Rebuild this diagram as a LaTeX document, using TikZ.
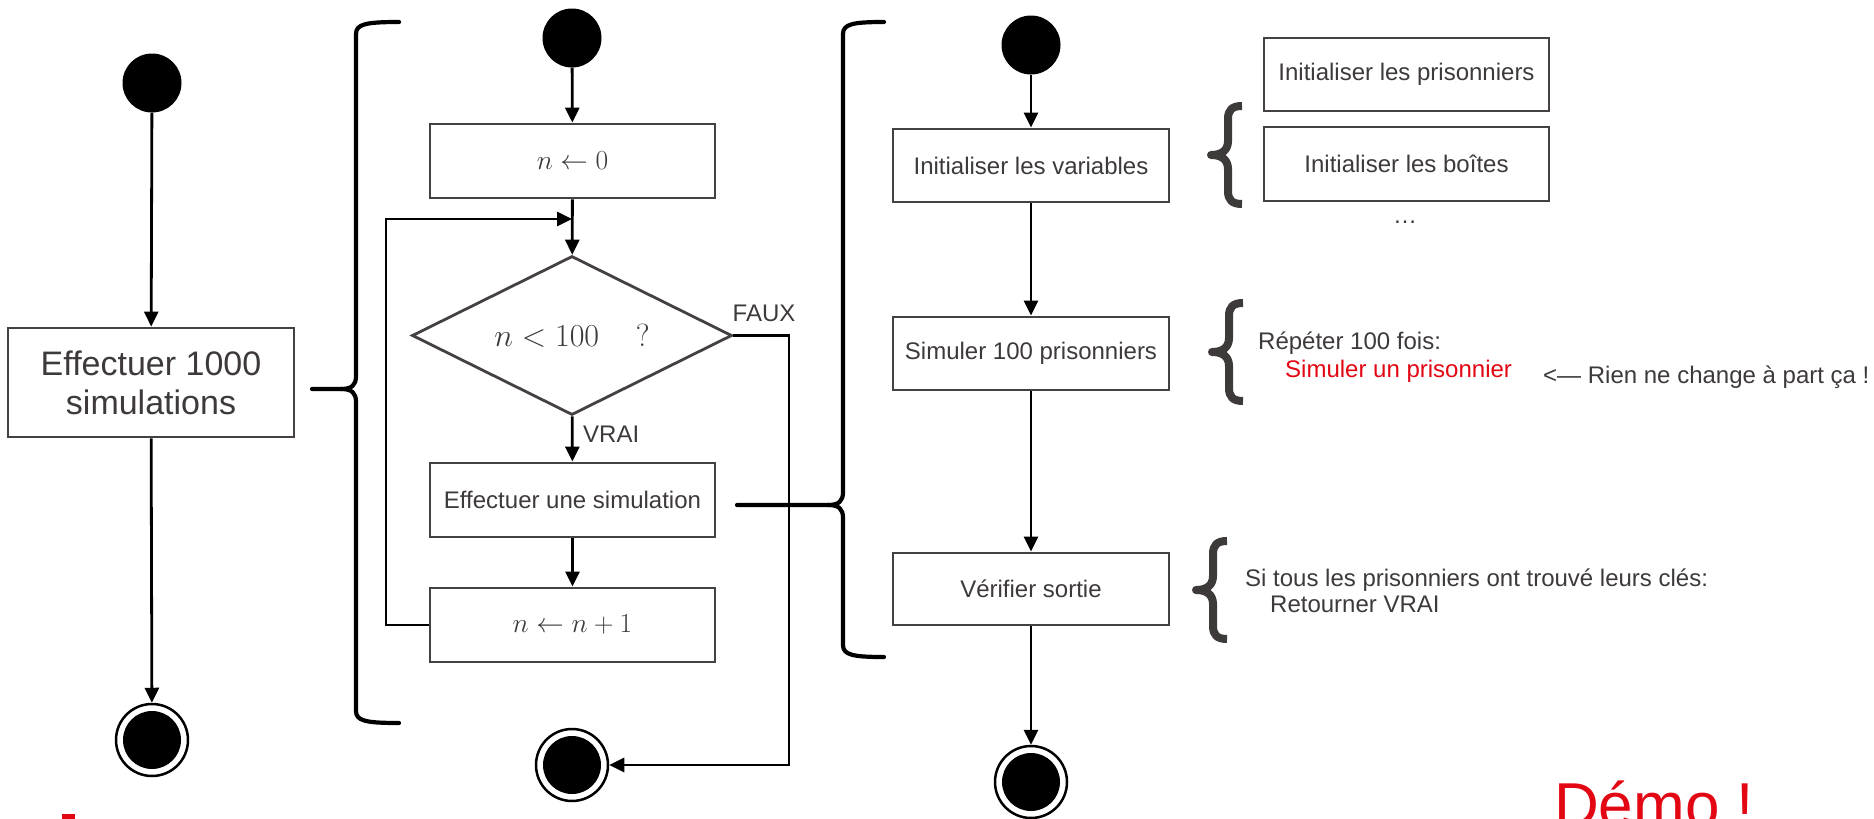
\documentclass[tikz,border=0pt]{standalone}
\usepackage{fontspec}
\setmainfont{Liberation Sans}
\usetikzlibrary{arrows.meta,shapes.geometric,calc}
\definecolor{txt}{HTML}{3E3A39}
\definecolor{bord}{HTML}{454141}
\definecolor{rouge}{HTML}{E30613}
\begin{document}
\begin{tikzpicture}[x=1pt,y=-1pt,
  box/.style={draw=bord,line width=2.8pt,inner sep=0pt,text=txt,
    font=\fontsize{24}{28}\selectfont},
  mth/.style={font=\fontsize{24.88}{30}\selectfont},
  startc/.style={circle,fill=black,inner sep=0pt,minimum size=59pt},
  endc/.style={circle,draw=black,line width=2.5pt,fill=white,inner sep=0pt,
    minimum size=72pt,path picture={\fill[black] (path picture bounding box.center) circle (29pt);}},
  arr/.style={line width=2.8pt,-{Triangle[length=15pt,width=14pt]}},
  brc/.style={line width=4.2pt,line cap=round,line join=round},
  lbl/.style={text=txt,inner sep=0pt,font=\fontsize{24}{28}\selectfont},
  cb/.style={draw=txt,line width=8pt,line join=round},
  cbrace/.pic={\draw[cb] (14,-49) .. controls (4,-49) and (0,-45) .. (0,-36) -- (0,-14)
      .. controls (0,-5) and (-6,0) .. (-17,0) .. controls (-6,0) and (0,5) .. (0,14)
      -- (0,36) .. controls (0,45) and (4,49) .. (14,49);}
]
\useasboundingbox[fill=white] (0,0) rectangle (1874,819);

% ---------- left column ----------
\node[startc] (s1) at (152,83) {};
\node[box,minimum width=286pt,minimum height=109pt,align=center,
  font=\fontsize{34}{39}\selectfont] (b1) at (151,382.5) {Effectuer 1000\\simulations};
\node[endc] (e1) at (152,740) {};
\draw[arr] (s1) -- (b1);
\draw[arr] (b1) -- (e1);

% brace 1
\draw[brc] (399,22) .. controls (366,22) and (356,24) .. (356,34) -- (356,376)
  .. controls (356,385) and (352,389) .. (341,389) -- (312,389);
\draw[brc] (341,389) .. controls (352,389) and (356,393) .. (356,402) -- (356,711)
  .. controls (356,721) and (366,723) .. (399,723);

% ---------- middle column ----------
\node[startc] (s2) at (572,38) {};
\node[box,mth,minimum width=285pt,minimum height=74pt] (n0) at (572.5,161) {\scalebox{1.105}{$n \leftarrow 0$}};
\node[diamond,draw=bord,line width=2.8pt,inner sep=0pt,minimum width=320pt,
  minimum height=159pt] (d) at (572,335.5) {};
\node[text=txt,mth,inner sep=0pt] (dt) at (d.center) {\scalebox{1.286}{$n < 100\hspace{1.15em}?$}};
\node[box,minimum width=285pt,minimum height=74pt] (sim) at (572.5,500) {Effectuer une simulation};
\node[box,mth,minimum width=285pt,minimum height=74pt] (inc) at (572.5,625) {\scalebox{1.105}{$n \leftarrow n+1$}};
\node[endc] (e2) at (572,765) {};

\coordinate (lc) at (386,219);
\coordinate (lj) at (572,219);
\coordinate (fc) at (789,765);

\draw[arr] (s2) -- (n0);
\draw[arr] (n0) -- (d);
\draw[arr] (inc.west) -| (lc) -- (lj);
\draw[arr] (d) -- (sim);
\draw[arr] (sim) -- (inc);
\draw[arr] (d.east) -| (fc) -- (e2);

\node[lbl,anchor=base] (faux) at (764,321) {FAUX};
\node[lbl,anchor=base west] (vrai) at (583,442) {VRAI};

% brace 2
\draw[brc] (884,22) .. controls (853,22) and (843,24) .. (843,34) -- (843,492)
  .. controls (843,501) and (839,505) .. (828,505) -- (737,505);
\draw[brc] (828,505) .. controls (839,505) and (843,509) .. (843,518) -- (843,645)
  .. controls (843,655) and (853,657) .. (884,657);

% ---------- right column ----------
\node[startc] (s3) at (1031,45) {};
\node[box,minimum width=276pt,minimum height=73pt] (v1) at (1031,165.5) {Initialiser les variables};
\node[box,minimum width=276pt,minimum height=73pt] (v2) at (1031,353.5) {Simuler 100 prisonniers};
\node[box,minimum width=276pt,minimum height=72pt] (v3) at (1031,589) {Vérifier sortie};
\node[endc] (e3) at (1031,782) {};
\draw[arr] (s3) -- (v1);
\draw[arr] (v1) -- (v2);
\draw[arr] (v2) -- (v3);
\draw[arr] (v3) -- (e3);

% detail boxes
\node[box,minimum width=285pt,minimum height=73pt] (p1) at (1406.5,74.5) {Initialiser les prisonniers};
\node[box,minimum width=285pt,minimum height=74pt] (p2) at (1406.5,164) {Initialiser les boîtes};
\node[lbl,anchor=base] (dots) at (1405,223) {\dots};

\pic at (1228,155) {cbrace};
\pic at (1229,352) {cbrace};
\pic at (1213,590) {cbrace};

\node[lbl,anchor=base west] (rep) at (1258,349) {Répéter 100 fois:};
\node[lbl,anchor=base west,text=rouge] (simp) at (1285,377) {Simuler un prisonnier};
\node[lbl,anchor=base west] (rien) at (1543,383) {<— Rien ne change à part ça !};
\node[lbl,anchor=base west] (si) at (1245,586) {Si tous les prisonniers ont trouvé leurs clés:};
\node[lbl,anchor=base west] (ret) at (1270,612) {Retourner VRAI};

\node[anchor=base west,inner sep=0pt,text=rouge,font=\fontsize{62}{70}\selectfont] (demo) at (1554,826) {Démo !};
\fill[rouge] (62,814) rectangle (75,819);
\end{tikzpicture}
\end{document}
